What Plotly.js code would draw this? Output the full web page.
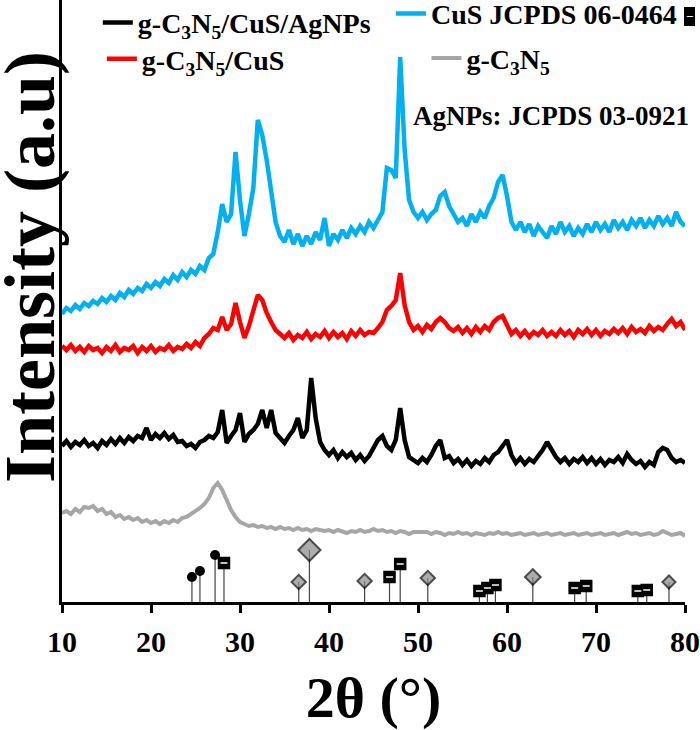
<!DOCTYPE html>
<html>
<head>
<meta charset="utf-8">
<script src="https://cdn.plot.ly/plotly-3.0.1.min.js"></script>
<style>html,body{margin:0;padding:0;background:#fff;}</style>
</head>
<body>
<div id="chart" style="width:700px;height:730px;"></div>
<script>
// 2θ grid (degrees), 10 → 80 in 0.5° steps
const theta = Array.from({length: 141}, (_, i) => 10 + i * 0.5);

// Series names
const seriesNames = [
  'g-C<sub>3</sub>N<sub>5</sub>/CuS/AgNPs',
  'CuS JCPDS 06-0464',
  'g-C<sub>3</sub>N<sub>5</sub>/CuS',
  'g-C<sub>3</sub>N<sub>5</sub>'
];

// Intensities (a.u., stacked offsets as drawn)
const intensityCompositeAg = [
  154,159,153,158,155,160,154,157,152,159,
  155,161,156,162,157,163,159,164,162,172,
  160,166,162,167,161,165,158,159,154,156,
  152,158,160,164,162,168,190,157,164,170,
  187,158,166,170,176,190,172,190,167,162,
  157,164,170,182,162,170,222,182,158,150,
  145,150,142,148,143,147,140,145,139,144,
  152,160,164,154,150,160,192,160,143,140,
  137,142,138,145,154,160,142,144,137,141,
  135,140,134,139,136,142,138,145,148,154,
  160,145,137,142,136,141,138,144,150,158,
  150,143,138,142,136,141,138,143,137,142,
  136,141,135,140,138,143,137,146,140,136,
  139,133,138,135,148,152,150,142,138,140,
  137
];
const intensityCuSBlue = [
  286,292,289,295,291,297,294,299,296,302,
  298,304,300,307,303,310,306,312,309,316,
  312,318,314,321,317,325,320,328,323,330,
  326,334,330,342,346,368,396,378,386,448,
  400,364,386,412,480,465,440,408,378,364,
  358,370,356,366,354,364,356,368,360,382,
  354,366,360,370,362,372,366,374,368,378,
  372,380,388,432,430,422,543,450,400,388,
  382,388,380,386,390,404,408,394,386,378,
  382,374,386,378,388,382,394,402,418,425,
  404,378,370,378,368,376,364,374,368,362,
  374,366,378,368,374,364,372,366,376,368,
  378,370,376,368,380,372,378,370,380,374,
  382,372,380,374,384,376,382,374,388,378,
  374
];
const intensityCompositeCuS = [
  254,250,255,249,253,248,254,250,252,247,
  253,249,255,248,252,250,254,247,253,249,
  254,248,252,250,255,249,253,251,256,252,
  258,254,262,266,272,270,283,270,276,297,
  278,262,274,288,305,300,287,278,270,266,
  262,267,260,265,262,268,261,266,263,269,
  262,268,263,267,261,269,264,270,265,268,
  267,272,278,290,294,300,327,295,278,270,
  274,268,275,271,278,282,278,272,269,273,
  267,272,266,273,268,274,270,278,282,284,
  274,266,270,264,269,263,268,265,270,264,
  268,264,270,265,269,263,270,266,271,265,
  270,264,269,266,271,267,272,266,273,268,
  271,267,274,269,273,270,276,281,274,278,
  270
];
const intensityC3N5 = [
  87,89,86,91,88,93,92,94,89,91,
  86,88,83,85,81,83,80,82,78,80,
  77,79,76,79,77,80,78,82,83,86,
  88,92,96,102,112,117,110,100,90,83,
  78,76,74,75,73,74,72,73,71,73,
  71,72,70,72,70,71,69,71,70,69,
  70,68,70,69,67,69,68,70,68,69,
  71,69,70,68,69,67,69,68,66,68,
  68,67,68,66,68,67,65,67,66,68,
  66,67,65,67,66,65,67,66,68,66,
  67,65,66,67,65,66,67,65,66,67,
  65,66,67,65,66,67,65,66,67,65,
  66,67,65,66,67,65,66,68,66,67,
  65,66,67,65,66,69,67,65,66,67,
  64
];

// Reference stick patterns
const refCircleTheta = [24.6, 25.5, 27.2];
const refCircleI = [23, 29, 45];
const refCuSTheta = [28.2, 46.8, 48.0, 56.9, 57.8, 58.7, 67.6, 68.9, 74.7, 75.7];
const refCuSI = [37, 23, 36, 9, 12, 15, 12, 14, 9, 10];
const refAgTheta = [36.6, 37.8, 44.0, 51.1, 62.9, 78.2];
const refAgI = [18, 50, 19, 22, 23, 18];

const FONT = 'Liberation Serif, Times New Roman, serif';
const zeros = a => a.map(() => 0);
const stickErr = a => ({type: 'data', symmetric: false, array: zeros(a), arrayminus: a.map(v => v + 2),
                       width: 0, thickness: 1.2, color: '#444'});

const traces = [
  {x: theta, y: intensityCompositeAg, name: seriesNames[0], mode: 'lines',
   line: {color: '#000000', width: 4.5}, legend: 'legend'},
  {x: theta, y: intensityCuSBlue, name: seriesNames[1], mode: 'lines',
   line: {color: '#00b0f0', width: 4.5}, legend: 'legend2'},
  {x: theta, y: intensityCompositeCuS, name: seriesNames[2], mode: 'lines',
   line: {color: '#ff0000', width: 4.5}, legend: 'legend3'},
  {x: theta, y: intensityC3N5, name: seriesNames[3], mode: 'lines',
   line: {color: '#a6a6a6', width: 4}, legend: 'legend4'},
  {x: refCircleTheta, y: refCircleI, mode: 'markers', showlegend: false, cliponaxis: false,
   marker: {symbol: 'circle', size: 10, color: '#000'}, error_y: stickErr(refCircleI)},
  {x: refCuSTheta, y: refCuSI, mode: 'markers', showlegend: false, cliponaxis: false,
   marker: {symbol: 'square', size: 11, color: '#000', line: {color: '#000', width: 1.5}},
   error_y: stickErr(refCuSI)},
  {x: refCuSTheta, y: refCuSI, mode: 'markers', showlegend: false, cliponaxis: false,
   marker: {symbol: 'line-ew', size: 5, line: {color: '#fff', width: 1.5}}},
  {x: refAgTheta, y: refAgI, mode: 'markers', showlegend: false, cliponaxis: false,
   marker: {symbol: 'diamond', size: [11, 17, 11, 11, 12, 10], color: '#8a8a8a',
            line: {color: '#000', width: 2}},
   error_y: stickErr(refAgI)}
];

const legendBase = {xanchor: 'left', yanchor: 'middle', bgcolor: 'rgba(0,0,0,0)',
                    font: {family: FONT, size: 28, weight: 'bold', color: '#000'}, itemwidth: 30};

const layout = {
  width: 700, height: 730,
  margin: {l: 62, r: 15, t: 0, b: 128, autoexpand: false},
  paper_bgcolor: '#fff', plot_bgcolor: '#fff',
  xaxis: {
    range: [10, 80], tick0: 10, dtick: 10,
    showline: true, linewidth: 3, linecolor: '#000', mirror: false,
    ticks: 'outside', ticklen: 8, tickwidth: 3, tickcolor: '#000',
    showgrid: false, zeroline: false, ticklabelstandoff: 3,
    tickfont: {family: FONT, size: 30, weight: 'bold', color: '#000'},
    title: {text: '2θ (°)', font: {family: FONT, size: 58, weight: 'bold', color: '#000'}, standoff: 45}
  },
  yaxis: {
    range: [-2, 600], showline: true, linewidth: 3, linecolor: '#000',
    showticklabels: false, ticks: '', showgrid: false, zeroline: false
  },
  showlegend: true,
  legend: Object.assign({x: 0.0575, y: 0.962}, legendBase),
  legend2: Object.assign({x: 0.528, y: 0.977}, legendBase),
  legend3: Object.assign({x: 0.064, y: 0.902}, legendBase),
  legend4: Object.assign({x: 0.585, y: 0.903}, legendBase),
  annotations: [
    {xref: 'paper', yref: 'paper', x: -0.0514, y: 0.5565, text: 'Intensity (a.u)', showarrow: false,
     textangle: -90, xanchor: 'center', yanchor: 'middle',
     font: {family: FONT, size: 72, weight: 'bold', color: '#000'}},
    {xref: 'paper', yref: 'paper', x: 1.008, y: 0.973, text: '−', showarrow: false,
     font: {family: FONT, size: 13, color: '#fff', weight: 'bold'}, bgcolor: '#000',
     bordercolor: '#000', borderpad: 1, xanchor: 'center', yanchor: 'middle'},
    {xref: 'paper', yref: 'paper', x: 0.785, y: 0.808, text: 'AgNPs: JCPDS 03-0921', showarrow: false,
     font: {family: FONT, size: 27, weight: 'bold', color: '#000'}, xanchor: 'center', yanchor: 'middle'}
  ]
};

Plotly.newPlot('chart', traces, layout, {displayModeBar: false, staticPlot: true});
</script>
</body>
</html>
